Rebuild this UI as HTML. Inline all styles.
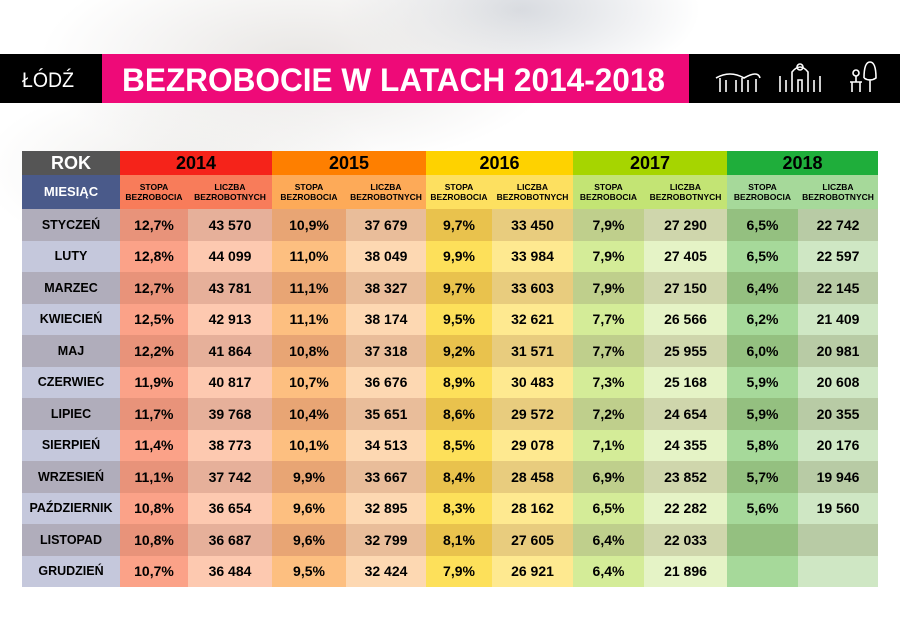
<!DOCTYPE html>
<html><head><meta charset="utf-8"><style>
body{margin:0;width:900px;height:636px;overflow:hidden;background:#fff;font-family:"Liberation Sans",sans-serif;position:relative}
.bg{position:absolute;left:0;top:0;width:900px;height:636px;background:radial-gradient(ellipse 260px 110px at 300px 60px,#e8e6e4,rgba(255,255,255,0)),radial-gradient(ellipse 180px 80px at 520px 10px,#d8dbe0,rgba(255,255,255,0)),radial-gradient(ellipse 200px 90px at 180px 170px,#efeeec,rgba(255,255,255,0))}
.bar{position:absolute;left:0;top:54px;width:900px;height:49px;background:#000}
.pink{position:absolute;left:102px;top:54px;width:587px;height:49px;background:#ee0a78}
table{position:absolute;left:22px;top:151px;border-collapse:collapse;border-spacing:0;table-layout:fixed}
td{padding:0;text-align:center;font-weight:bold;font-size:14px;color:#000}
.h td{height:24px;font-size:18px}
.s td{height:34px;font-size:8.5px;line-height:10px}
.h td:nth-child(1){background:#555;color:#fff}
.h td:nth-child(2){background:#f5231a}.h td:nth-child(3){background:#fe7f00}.h td:nth-child(4){background:#fed200}.h td:nth-child(5){background:#a6d500}.h td:nth-child(6){background:#1fae3b}
.s td:nth-child(1){background:#4a5a8a;color:#fff;font-size:13px}
.s td:nth-child(2),.s td:nth-child(3){background:#f87c5a}
.s td:nth-child(4),.s td:nth-child(5){background:#fdaa58}
.s td:nth-child(6),.s td:nth-child(7){background:#fde060}
.s td:nth-child(8),.s td:nth-child(9){background:#c3e474}
.s td:nth-child(10),.s td:nth-child(11){background:#a6d99a}
tr.d td,tr.l td{height:31.5px}
tr.d td:nth-child(1){background:#b0adbb;font-size:12.5px}tr.l td:nth-child(1){background:#c5c8dc;font-size:12.5px}
tr.d td:nth-child(2){background:#e8937a}tr.l td:nth-child(2){background:#fba288}
tr.d td:nth-child(3){background:#e6b09a}tr.l td:nth-child(3){background:#fdc9b0}
tr.d td:nth-child(4){background:#e8a574}tr.l td:nth-child(4){background:#fdbf80}
tr.d td:nth-child(5){background:#e9bd9a}tr.l td:nth-child(5){background:#fdd8b2}
tr.d td:nth-child(6){background:#e9c24d}tr.l td:nth-child(6){background:#fde05a}
tr.d td:nth-child(7){background:#e8cc7e}tr.l td:nth-child(7){background:#fee990}
tr.d td:nth-child(8){background:#bfcf8c}tr.l td:nth-child(8){background:#d4ec98}
tr.d td:nth-child(9){background:#cfd6ac}tr.l td:nth-child(9){background:#e5f3c6}
tr.d td:nth-child(10){background:#94c080}tr.l td:nth-child(10){background:#a6d99a}
tr.d td:nth-child(11){background:#b8cba5}tr.l td:nth-child(11){background:#cfe7c4}
</style></head><body>
<div class="bg"></div>
<div class="bar"></div>
<div class="pink"></div>
<svg style="position:absolute;left:0;top:0" width="900" height="110">
<text x="22" y="87" fill="#fff" font-size="21" font-family="Liberation Sans,sans-serif" textLength="52" lengthAdjust="spacingAndGlyphs">ŁÓDŹ</text>
<text x="122" y="91" fill="#fff" font-size="32" font-weight="bold" font-family="Liberation Sans,sans-serif" textLength="543" lengthAdjust="spacingAndGlyphs">BEZROBOCIE W LATACH 2014-2018</text>
<g stroke="#fff" stroke-width="1.6" fill="none">
<path d="M716 78 Q730 70 744 78 Q758 70 760 78"/><path d="M720 92 V78 M726 92 V80 M736 92 V80 M742 92 V78 M748 92 V80 M756 92 V79"/>
<path d="M780 92 V76 M786 92 V80 M792 92 V72 Q800 62 808 72 V92 M814 92 V80 M820 92 V76 M798 92 V80 H802 V92"/><circle cx="800" cy="67" r="3"/>
<circle cx="856" cy="73" r="3"/><path d="M856 76 V82 M850 82 H862 M852 82 V92 M860 82 V92"/><path d="M870 92 V80 M864 78 Q864 62 870 62 Q876 62 876 78 Q870 82 864 78"/>
</g></svg>
<table>
<colgroup><col style="width:98px"><col style="width:68px"><col style="width:84px"><col style="width:74px"><col style="width:80px"><col style="width:66px"><col style="width:81px"><col style="width:71px"><col style="width:83px"><col style="width:71px"><col style="width:80px"></colgroup>
<tr class="h"><td>ROK</td><td colspan="2">2014</td><td colspan="2">2015</td><td colspan="2">2016</td><td colspan="2">2017</td><td colspan="2">2018</td></tr>
<tr class="s"><td>MIESIĄC</td><td>STOPA<br>BEZROBOCIA</td><td>LICZBA<br>BEZROBOTNYCH</td><td>STOPA<br>BEZROBOCIA</td><td>LICZBA<br>BEZROBOTNYCH</td><td>STOPA<br>BEZROBOCIA</td><td>LICZBA<br>BEZROBOTNYCH</td><td>STOPA<br>BEZROBOCIA</td><td>LICZBA<br>BEZROBOTNYCH</td><td>STOPA<br>BEZROBOCIA</td><td>LICZBA<br>BEZROBOTNYCH</td></tr>
<tr class="d"><td>STYCZEŃ</td><td>12,7%</td><td>43 570</td><td>10,9%</td><td>37 679</td><td>9,7%</td><td>33 450</td><td>7,9%</td><td>27 290</td><td>6,5%</td><td>22 742</td></tr>
<tr class="l"><td>LUTY</td><td>12,8%</td><td>44 099</td><td>11,0%</td><td>38 049</td><td>9,9%</td><td>33 984</td><td>7,9%</td><td>27 405</td><td>6,5%</td><td>22 597</td></tr>
<tr class="d"><td>MARZEC</td><td>12,7%</td><td>43 781</td><td>11,1%</td><td>38 327</td><td>9,7%</td><td>33 603</td><td>7,9%</td><td>27 150</td><td>6,4%</td><td>22 145</td></tr>
<tr class="l"><td>KWIECIEŃ</td><td>12,5%</td><td>42 913</td><td>11,1%</td><td>38 174</td><td>9,5%</td><td>32 621</td><td>7,7%</td><td>26 566</td><td>6,2%</td><td>21 409</td></tr>
<tr class="d"><td>MAJ</td><td>12,2%</td><td>41 864</td><td>10,8%</td><td>37 318</td><td>9,2%</td><td>31 571</td><td>7,7%</td><td>25 955</td><td>6,0%</td><td>20 981</td></tr>
<tr class="l"><td>CZERWIEC</td><td>11,9%</td><td>40 817</td><td>10,7%</td><td>36 676</td><td>8,9%</td><td>30 483</td><td>7,3%</td><td>25 168</td><td>5,9%</td><td>20 608</td></tr>
<tr class="d"><td>LIPIEC</td><td>11,7%</td><td>39 768</td><td>10,4%</td><td>35 651</td><td>8,6%</td><td>29 572</td><td>7,2%</td><td>24 654</td><td>5,9%</td><td>20 355</td></tr>
<tr class="l"><td>SIERPIEŃ</td><td>11,4%</td><td>38 773</td><td>10,1%</td><td>34 513</td><td>8,5%</td><td>29 078</td><td>7,1%</td><td>24 355</td><td>5,8%</td><td>20 176</td></tr>
<tr class="d"><td>WRZESIEŃ</td><td>11,1%</td><td>37 742</td><td>9,9%</td><td>33 667</td><td>8,4%</td><td>28 458</td><td>6,9%</td><td>23 852</td><td>5,7%</td><td>19 946</td></tr>
<tr class="l"><td>PAŹDZIERNIK</td><td>10,8%</td><td>36 654</td><td>9,6%</td><td>32 895</td><td>8,3%</td><td>28 162</td><td>6,5%</td><td>22 282</td><td>5,6%</td><td>19 560</td></tr>
<tr class="d"><td>LISTOPAD</td><td>10,8%</td><td>36 687</td><td>9,6%</td><td>32 799</td><td>8,1%</td><td>27 605</td><td>6,4%</td><td>22 033</td><td></td><td></td></tr>
<tr class="l"><td>GRUDZIEŃ</td><td>10,7%</td><td>36 484</td><td>9,5%</td><td>32 424</td><td>7,9%</td><td>26 921</td><td>6,4%</td><td>21 896</td><td></td><td></td></tr>
</table>
</body></html>
